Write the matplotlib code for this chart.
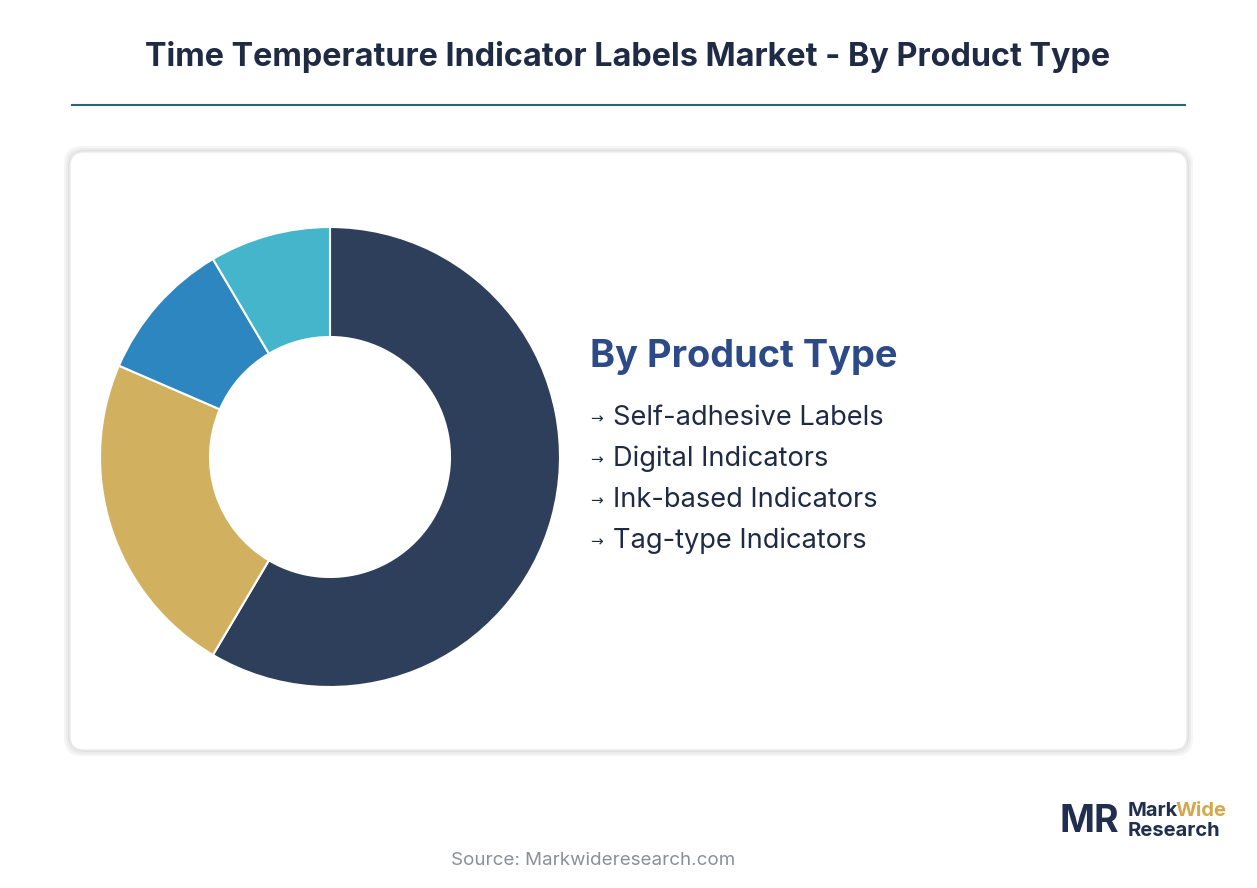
import matplotlib.pyplot as plt
from matplotlib.patches import FancyBboxPatch

# data
categories = ["Self-adhesive Labels", "Digital Indicators", "Ink-based Indicators", "Tag-type Indicators"]
slice_labels = ["Self-adhesive Labels", "Ink-based Indicators", "Digital Indicators", "Tag-type Indicators"]
shares = [58.5, 23.0, 10.0, 8.5]
slice_colors = ["#2e3f5c", "#d1b060", "#2e86c1", "#45b5cc"]

title = "Time Temperature Indicator Labels Market - By Product Type"
heading = "By Product Type"
source = "Source: Markwideresearch.com"

W, H = 1257, 888
plt.rcParams['font.family'] = ['Inter', 'DejaVu Sans']
fig = plt.figure(figsize=(W / 100, H / 100), dpi=100)
fig.patch.set_facecolor("white")

# overlay in pixel coordinates
bg = fig.add_axes([0, 0, 1, 1])
bg.set_xlim(0, W)
bg.set_ylim(H, 0)
bg.axis("off")

bg.text(628, 57, title, ha="center", va="center", fontsize=23.3,
        fontweight="bold", color="#1f2a44")
bg.plot([72, 1185], [105, 105], color="#2a6478", lw=1.5)

# card with soft shadow
for i, a in enumerate([0.04, 0.04, 0.05]):
    d = 6 - 2 * i
    bg.add_patch(FancyBboxPatch((70 - d, 152 - d), 1117 + 2 * d, 598 + 2 * d,
                                boxstyle="round,pad=0,rounding_size=18",
                                fc="black", ec="none", alpha=a))
bg.add_patch(FancyBboxPatch((70, 152), 1117, 598,
                            boxstyle="round,pad=0,rounding_size=14",
                            fc="white", ec="#ececec", lw=1))

# legend text
bg.text(590, 357, heading, ha="left", va="center", fontsize=27.3,
        fontweight="bold", color="#2c4a86")
for i, c in enumerate(categories):
    y = 418 + 41 * i
    bg.text(590, y + 1, "\u2192", ha="left", va="center", fontsize=11,
            color="#1f2a44", family=["DejaVu Sans"])
    bg.text(613, y, c, ha="left", va="center", fontsize=19.6, color="#1f2a44")

bg.text(593, 860, source, ha="center", va="center", fontsize=13.5, color="#8a8f98")

# logo
bg.text(1060, 822, "MR", ha="left", va="center", fontsize=27, fontweight="bold",
        color="#1f2f4d")
bg.text(1128, 811, "Mark", ha="left", va="center", fontsize=14.5, fontweight="bold",
        color="#1f2f4d")
bg.text(1176, 811, "Wide", ha="left", va="center", fontsize=14.5, fontweight="bold",
        color="#d4a84a")
bg.text(1128, 831, "Research", ha="left", va="center", fontsize=14.5, fontweight="bold",
        color="#1f2f4d")

# donut
cx, cy, R, r = 330, 457, 230, 120
ax = fig.add_axes([(cx - R) / W, (H - cy - R) / H, 2 * R / W, 2 * R / H])
ax.pie(shares, colors=slice_colors, startangle=90, counterclock=False, radius=1,
       wedgeprops=dict(width=(R - r) / R, edgecolor="white", linewidth=1.5))
ax.set_xlim(-1, 1)
ax.set_ylim(-1, 1)
ax.set_aspect("equal")
ax.axis("off")

fig.savefig("out.png", dpi=100, facecolor="white")
